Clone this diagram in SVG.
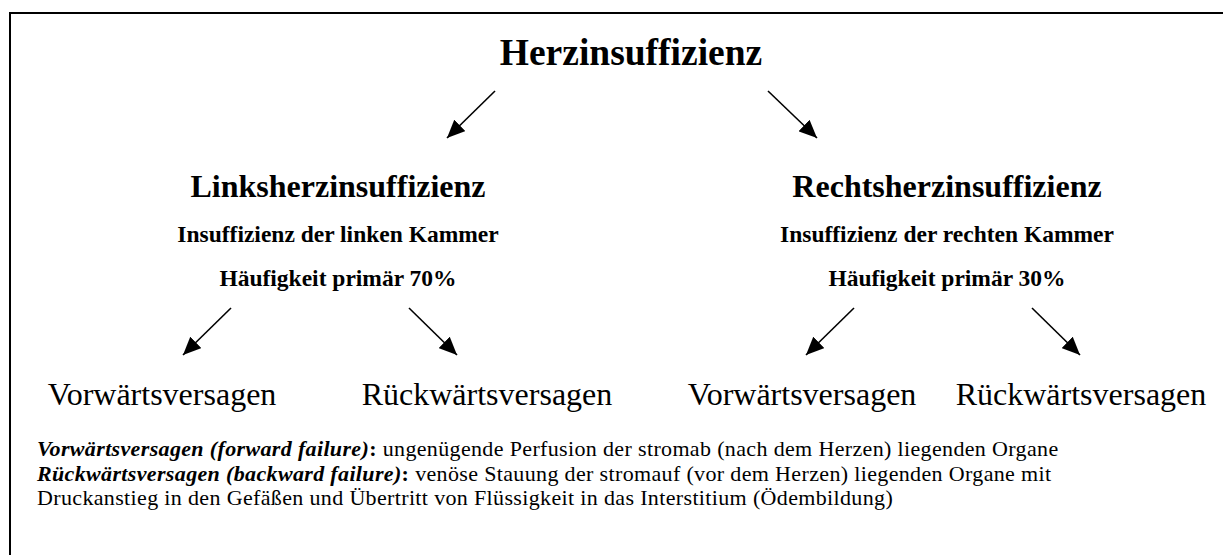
<svg xmlns="http://www.w3.org/2000/svg" width="1223" height="555" viewBox="0 0 1223 555">
<style>
text{font-family:"Liberation Serif","Times New Roman",serif;fill:#000}
.t0{font-size:37.5px;font-weight:bold;text-anchor:middle}
.t1{font-size:32px;font-weight:bold;text-anchor:middle}
.t2{font-size:23.5px;font-weight:bold;text-anchor:middle}
.t3{font-size:32px;text-anchor:middle}
.ft{font-size:22px;letter-spacing:0.35px}
.bi{font-weight:bold;font-style:italic}
.b{font-weight:bold}
.conn line{stroke:#000;stroke-width:1.6;marker-end:url(#ah)}
</style>
<defs>
<marker id="ah" viewBox="0 0 18 16" refX="18" refY="8" markerWidth="18" markerHeight="16" markerUnits="userSpaceOnUse" orient="auto">
<path d="M0,0 L18,8 L0,16 z" fill="#000"/>
</marker>
</defs>
<rect width="1223" height="555" fill="#fff"/>
<path d="M10,560 V13 H1230" fill="none" stroke="#000" stroke-width="2"/>
<g id="root"><text class="t0" x="631" y="65">Herzinsuffizienz</text></g>
<g id="links">
<text class="t1" x="338" y="197">Linksherzinsuffizienz</text>
<text class="t2" x="338" y="242">Insuffizienz der linken Kammer</text>
<text class="t2" x="338" y="286">Häufigkeit primär 70%</text>
</g>
<g id="rechts">
<text class="t1" x="947" y="197">Rechtsherzinsuffizienz</text>
<text class="t2" x="947" y="242">Insuffizienz der rechten Kammer</text>
<text class="t2" x="947" y="286">Häufigkeit primär 30%</text>
</g>
<g id="lv"><text class="t3" x="162" y="405">Vorwärtsversagen</text></g>
<g id="lr"><text class="t3" x="487" y="405">Rückwärtsversagen</text></g>
<g id="rv"><text class="t3" x="802" y="405">Vorwärtsversagen</text></g>
<g id="rr"><text class="t3" x="1081" y="405">Rückwärtsversagen</text></g>
<g class="conn" id="connectors">
<line x1="495" y1="91" x2="447" y2="138"/>
<line x1="768" y1="91" x2="817" y2="138"/>
<line x1="231" y1="308" x2="183" y2="355"/>
<line x1="409" y1="308" x2="457" y2="355"/>
<line x1="854" y1="308" x2="806" y2="355"/>
<line x1="1032" y1="308" x2="1080" y2="355"/>
</g>
<g id="legend">
<text class="ft" x="37" y="456"><tspan class="bi">Vorwärtsversagen (forward failure)</tspan><tspan class="b">:</tspan> ungenügende Perfusion der stromab (nach dem Herzen) liegenden Organe</text>
<text class="ft" x="37" y="480.5"><tspan class="bi">Rückwärtsversagen (backward failure)</tspan><tspan class="b">:</tspan> venöse Stauung der stromauf (vor dem Herzen) liegenden Organe mit</text>
<text class="ft" x="37" y="505">Druckanstieg in den Gefäßen und Übertritt von Flüssigkeit in das Interstitium (Ödembildung)</text>
</g>
</svg>
